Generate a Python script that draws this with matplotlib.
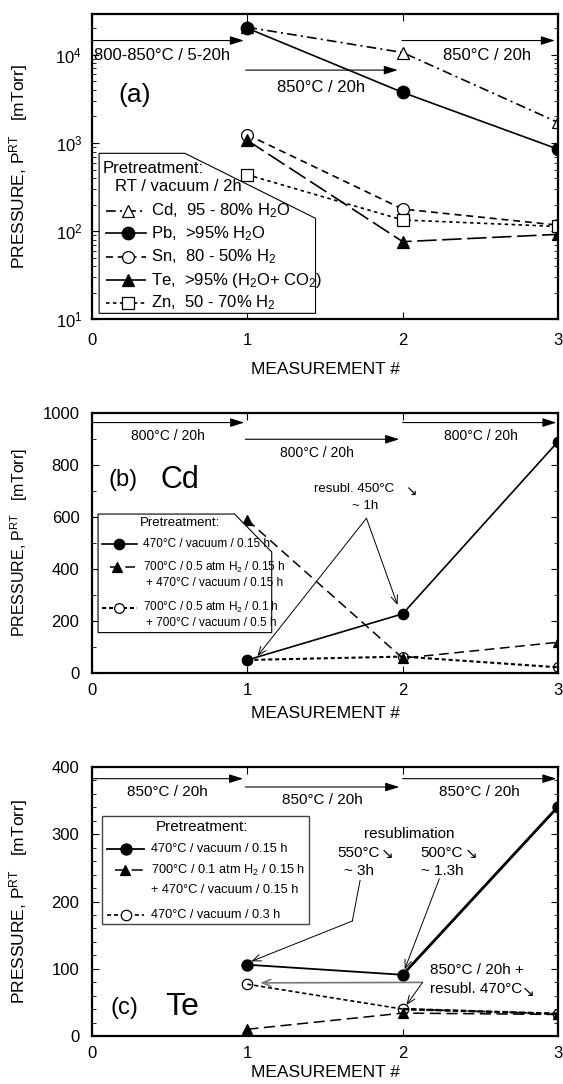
import matplotlib
matplotlib.use('Agg')
import matplotlib.pyplot as plt
import matplotlib.patches as patches
from matplotlib.ticker import LogLocator, MultipleLocator, NullFormatter

plt.rcParams['font.family'] = ['Liberation Sans', 'DejaVu Sans']
plt.rcParams['mathtext.fontset'] = 'custom'
plt.rcParams['mathtext.rm'] = 'Liberation Sans'
plt.rcParams['mathtext.it'] = 'Liberation Sans'
plt.rcParams['lines.scale_dashes'] = False

# data
meas = [1, 2, 3]
xticks = [0, 1, 2, 3]

# (a) RT / vacuum / 2h
a_cd = [20500, 10600, 1710]
a_pb = [20000, 3740, 850]
a_sn = [1240, 178, 117]
a_te = [1070, 76, 92]
a_zn = [436, 134, 113]
a_labels = ['Cd,  95 - 80% H$_2$O', 'Pb,  >95% H$_2$O', 'Sn,  80 - 50% H$_2$',
            'Te,  >95% (H$_2$O+ CO$_2$)', 'Zn,  50 - 70% H$_2$']

# (b) Cd
b_vac = [51, 228, 889]
b_h2 = [588, 58, 119]
b_h2vac = [51, 64, 23]

# (c) Te
c_vac015 = [106, 91, 341]
c_h2 = [10, 34, 32]
c_vac03 = [77, 40, 33]

fig = plt.figure(figsize=(5.63, 10.84), dpi=100)
L, W = 0.1634, 0.8277
ax_a = fig.add_axes([L, 0.7054, W, 0.2817])
ax_b = fig.add_axes([L, 0.3789, W, 0.2404])
ax_c = fig.add_axes([L, 0.0443, W, 0.2481])

ylab = 'PRESSURE, P$^{RT}$   [mTorr]'


def style_axis(ax, ylabsize, xpad, ypad, xlabpad):
    ax.set_xlim(0, 3)
    ax.set_xticks(xticks)
    ax.tick_params(which='both', direction='in', top=True, right=True, labelsize=12)
    ax.tick_params(axis='x', which='major', length=5, pad=xpad)
    ax.tick_params(axis='y', which='major', length=5, pad=ypad)
    ax.tick_params(which='minor', length=3)
    for s in ax.spines.values():
        s.set_linewidth(1.6)
    ax.set_xlabel('MEASUREMENT #', fontsize=12.5, labelpad=xlabpad)
    ax.set_ylabel(ylab, fontsize=ylabsize)
    ax.yaxis.set_label_coords(-0.132, 0.5)


def harrow(ax, x0, x1, y):
    ax.annotate('', xy=(x1, y), xytext=(x0, y),
                arrowprops=dict(arrowstyle='-|>,head_length=0.7,head_width=0.22',
                                color='black', lw=0.8, shrinkA=0, shrinkB=0,
                                mutation_scale=12))


def tarrow(ax, xy, xytext):
    ax.annotate('', xy=xy, xytext=xytext,
                arrowprops=dict(arrowstyle='->,head_length=0.5,head_width=0.2',
                                color='black', lw=0.7, shrinkA=0, shrinkB=0,
                                mutation_scale=12))


# ---------------- (a) ----------------
ax = ax_a
ax.set_yscale('log')
ax.set_ylim(10, 29000)
ax.yaxis.set_major_locator(LogLocator(base=10, numticks=10))
ax.yaxis.set_minor_locator(LogLocator(base=10, subs=range(2, 10), numticks=20))
ax.yaxis.set_minor_formatter(NullFormatter())

st_a = [
    dict(marker='^', mfc='white', ms=8, dashes=(7, 3, 1.5, 3)),
    dict(marker='o', mfc='black', ms=9, ls='-'),
    dict(marker='o', mfc='white', ms=8.5, dashes=(5, 3.5)),
    dict(marker='^', mfc='black', ms=8, dashes=(14, 4)),
    dict(marker='s', mfc='white', ms=8, dashes=(2.5, 2.5)),
]
for yv, st in zip([a_cd, a_pb, a_sn, a_te, a_zn], st_a):
    ax.plot(meas, yv, color='black', lw=1.2, mec='black', mew=0.9, zorder=2, **st)

harrow(ax, 0, 0.978, 14500)
harrow(ax, 0.99, 1.969, 6700)
harrow(ax, 1.996, 2.98, 14500)
ax.text(0.016, 9800, '800-850°C / 5-20h', fontsize=12, ha='left', va='center')
ax.text(1.473, 4250, '850°C / 20h', fontsize=12, ha='center', va='center')
ax.text(2.544, 9800, '850°C / 20h', fontsize=12, ha='center', va='center')
ax.text(0.092, 0.735, '(a)', transform=ax.transAxes, fontsize=19, ha='center', va='center')

poly = patches.Polygon([(0.0153, 0.5437), (0.1995, 0.5437), (0.4797, 0.3308),
                        (0.4797, 0.0197), (0.0153, 0.0197)], closed=True,
                       transform=ax.transAxes, facecolor='white', edgecolor='black',
                       lw=0.8, zorder=3)
ax.add_patch(poly)
ax.text(0.023, 0.4945, 'Pretreatment:', transform=ax.transAxes, fontsize=12,
        ha='left', va='center', zorder=5)
ax.text(0.05, 0.4345, 'RT / vacuum / 2h', transform=ax.transAxes, fontsize=12,
        ha='left', va='center', zorder=5)
rows_a = [0.356, 0.2817, 0.2052, 0.1288, 0.0546]
for yy, lab, st in zip(rows_a, a_labels, st_a):
    s = dict(st)
    m = s.pop('marker'); mfc = s.pop('mfc'); ms = s.pop('ms')
    ax.plot([0.0307, 0.115], [yy, yy], transform=ax.transAxes, color='black', lw=1.2,
            zorder=4, clip_on=False, **s)
    ax.plot([0.0767], [yy], transform=ax.transAxes, marker=m, mfc=mfc, ms=ms,
            mec='black', mew=0.9, ls='none', zorder=4)
    ax.text(0.1266, yy, lab, transform=ax.transAxes, fontsize=12, ha='left',
            va='center', zorder=5)

style_axis(ax, 12.5, 10, 7, 10)

# ---------------- (b) ----------------
ax = ax_b
ax.set_ylim(0, 1000)
ax.yaxis.set_major_locator(MultipleLocator(200))
ax.yaxis.set_minor_locator(MultipleLocator(100))

st_b = [
    dict(marker='o', mfc='black', ms=7.5, ls='-', lw=1.2),
    dict(marker='^', mfc='black', ms=7, dashes=(7, 4), lw=1.1),
    dict(marker='o', mfc='none', ms=7, dashes=(3, 2), lw=1.5),
]
for yv, st in zip([b_vac, b_h2, b_h2vac], st_b):
    ax.plot(meas, yv, color='black', mec='black', mew=0.9, zorder=2, **st)

harrow(ax, 0, 0.98, 962)
harrow(ax, 0.987, 1.978, 898)
harrow(ax, 2.0, 2.99, 962)
ax.text(0.487, 910, '800°C / 20h', fontsize=10, ha='center', va='center')
ax.text(1.45, 846, '800°C / 20h', fontsize=10, ha='center', va='center')
ax.text(2.507, 910, '800°C / 20h', fontsize=10, ha='center', va='center')
ax.text(0.2, 742, '(b)', fontsize=17, ha='center', va='center')
ax.text(0.567, 742, 'Cd', fontsize=22, ha='center', va='center')
ax.text(1.69, 706, 'resubl. 450°C', fontsize=9.5, ha='center', va='center')
ax.text(2.05, 700, '↘', fontsize=10, ha='center', va='center')
ax.text(1.76, 642, '~ 1h', fontsize=9.5, ha='center', va='center')
tarrow(ax, (1.065, 66), (1.767, 595))
tarrow(ax, (1.967, 262), (1.767, 595))

poly = patches.Polygon([(0.039, 611), (0.918, 611), (1.157, 465.5), (1.157, 156),
                        (0.039, 156)], closed=True, facecolor='white',
                       edgecolor='black', lw=0.8, zorder=3)
ax.add_patch(poly)
ax.text(0.567, 575, 'Pretreatment:', fontsize=9.5, ha='center', va='center', zorder=5)
b_rows = [(496, 0.062, 0.291, 0.177), (407, 0.119, 0.28, 0.16), (252, 0.062, 0.291, 0.177)]
b_text = [['470°C / vacuum / 0.15 h'],
          ['700°C / 0.5 atm H$_2$ / 0.15 h', '+ 470°C / vacuum / 0.15 h'],
          ['700°C / 0.5 atm H$_2$ / 0.1 h', '+ 700°C / vacuum / 0.5 h']]
for (yy, x0, x1, xm), txt, st in zip(b_rows, b_text, st_b):
    s = dict(st)
    m = s.pop('marker'); mfc = s.pop('mfc'); ms = s.pop('ms')
    ax.plot([x0, x1], [yy, yy], color='black', zorder=4, **s)
    ax.plot([xm], [yy], marker=m, mfc='white' if mfc == 'none' else mfc, ms=ms,
            mec='black', mew=0.9, ls='none', zorder=4)
    ax.text(0.326, yy, txt[0], fontsize=8.5, ha='left', va='center', zorder=5)
    if len(txt) > 1:
        ax.text(0.349, yy - 59, txt[1], fontsize=8.5, ha='left', va='center', zorder=5)

style_axis(ax, 11.5, 7, 9, 6)

# ---------------- (c) ----------------
ax = ax_c
ax.set_ylim(0, 400)
ax.yaxis.set_major_locator(MultipleLocator(100))
ax.yaxis.set_minor_locator(MultipleLocator(20))

st_c = [
    dict(marker='o', mfc='black', ms=8, ls='-', lw=1.3),
    dict(marker='^', mfc='black', ms=7, dashes=(8, 4), lw=1.1),
    dict(marker='o', mfc='none', ms=7.5, dashes=(3, 2), lw=1.2),
]
for yv, st in zip([c_vac015, c_h2, c_vac03], st_c):
    ax.plot(meas, yv, color='black', mec='black', mew=0.9, zorder=2, **st)
ax.plot(meas[1:], c_vac015[1:], color='black', lw=2.0, zorder=2)
ax.plot(meas[1:], c_vac03[1:], color='black', lw=1.8, dashes=(4, 2), zorder=2)

harrow(ax, 0, 0.973, 382.7)
harrow(ax, 0.987, 1.978, 370.3)
harrow(ax, 2.0, 2.99, 382.7)
ax.text(0.487, 363, '850°C / 20h', fontsize=11, ha='center', va='center')
ax.text(1.485, 350.5, '850°C / 20h', fontsize=11, ha='center', va='center')
ax.text(2.495, 363, '850°C / 20h', fontsize=11, ha='center', va='center')
ax.text(0.211, 41, '(c)', fontsize=17, ha='center', va='center')
ax.text(0.578, 43.6, 'Te', fontsize=23, ha='center', va='center')

ax.text(2.04, 300, 'resublimation', fontsize=11, ha='center', va='center')
ax.text(1.715, 272.8, '550°C', fontsize=11, ha='center', va='center')
ax.text(1.9, 270, '↘', fontsize=11, ha='center', va='center')
ax.text(1.72, 245, '~ 3h', fontsize=11, ha='center', va='center')
ax.text(2.25, 272.8, '500°C', fontsize=11, ha='center', va='center')
ax.text(2.44, 270, '↘', fontsize=11, ha='center', va='center')
ax.text(2.258, 245, '~ 1.3h', fontsize=11, ha='center', va='center')
ax.plot([1.726, 1.676], [231.4, 171], color='black', lw=0.7)
tarrow(ax, (1.026, 111), (1.676, 171))
tarrow(ax, (2.013, 99), (2.236, 233.7))

ax.text(2.479, 98, '850°C / 20h +', fontsize=11, ha='center', va='center')
ax.text(2.47, 69.3, 'resubl. 470°C', fontsize=11, ha='center', va='center')
ax.text(2.81, 66, '↘', fontsize=11, ha='center', va='center')
ax.annotate('', xy=(1.083, 79), xytext=(2.128, 79.7),
            arrowprops=dict(arrowstyle='->,head_length=0.5,head_width=0.2',
                            color='#777777', lw=1.2, shrinkA=0, shrinkB=0,
                            mutation_scale=12))
tarrow(ax, (2.024, 46), (2.128, 79.7))

ax.add_patch(patches.Rectangle((0.0666, 166), 1.398 - 0.0666, 326.7 - 166,
                               facecolor='white', edgecolor='#444444', lw=1.0, zorder=3))
ax.text(0.705, 311, 'Pretreatment:', fontsize=11, ha='center', va='center', zorder=5)
c_rows = [(278.7, 0.096, 0.337, 0.218), (246.5, 0.147, 0.326, 0.211),
          (179.7, 0.096, 0.337, 0.218)]
c_text = [['470°C / vacuum / 0.15 h'],
          ['700°C / 0.1 atm H$_2$ / 0.15 h', '+ 470°C / vacuum / 0.15 h'],
          ['470°C / vacuum / 0.3 h']]
for (yy, x0, x1, xm), txt, st in zip(c_rows, c_text, st_c):
    s = dict(st)
    m = s.pop('marker'); mfc = s.pop('mfc'); ms = s.pop('ms')
    ax.plot([x0, x1], [yy, yy], color='black', zorder=4, **s)
    ax.plot([xm], [yy], marker=m, mfc='white' if mfc == 'none' else mfc, ms=ms,
            mec='black', mew=0.9, ls='none', zorder=4)
    ax.text(0.379, yy, txt[0], fontsize=9.2, ha='left', va='center', zorder=5)
    if len(txt) > 1:
        ax.text(0.379, yy - 29.7, txt[1], fontsize=9.2, ha='left', va='center', zorder=5)

style_axis(ax, 12.5, 7, 9, 3)

fig.savefig('out.png', dpi=100)
